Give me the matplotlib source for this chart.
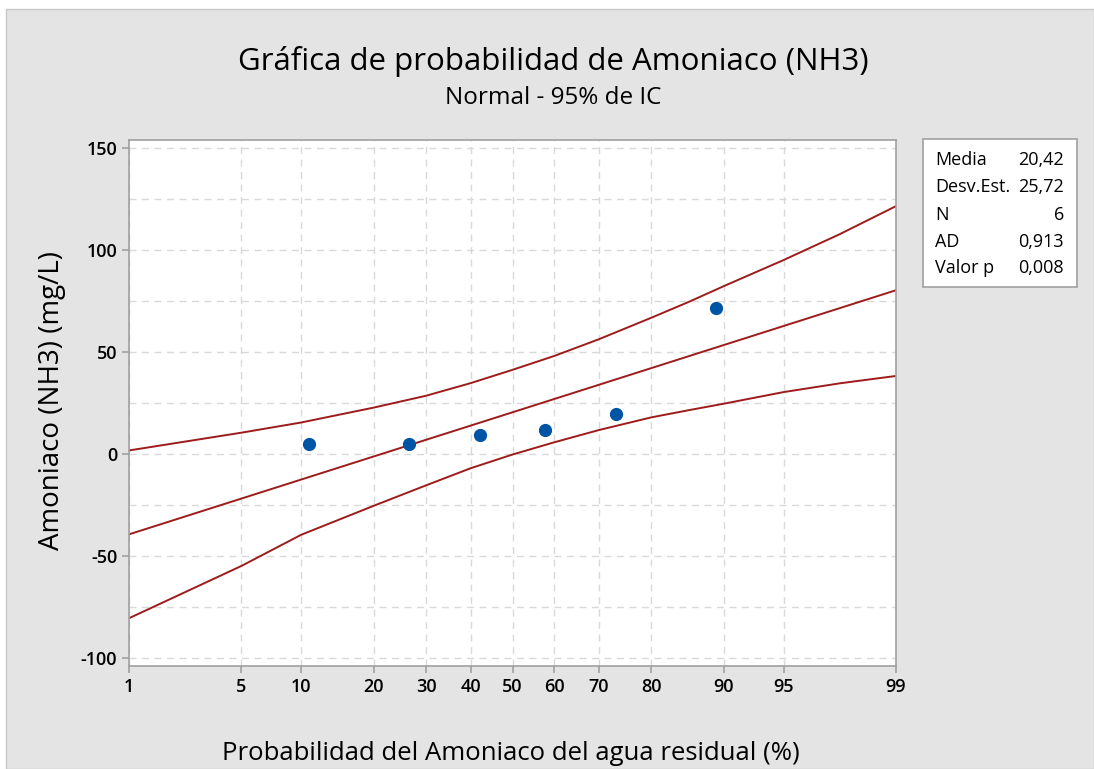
import matplotlib.pyplot as plt
import numpy as np
from matplotlib.patches import Rectangle
from statistics import NormalDist

plt.rcParams['font.family'] = ['Open Sans', 'DejaVu Sans']

# puntos de datos (posicion de probabilidad %, valor mg/L)
prob = [10.9, 26.6, 42.2, 57.8, 73.4, 89.1]
amon = [4.8, 4.9, 9.6, 11.7, 19.8, 71.5]

# linea ajustada y bandas de confianza 95%
fit_prob = [1, 99]
fit_val = [-39.3, 80.3]
band_prob = [1, 5, 10, 20, 30, 40, 50, 60, 70, 80, 85.7, 90, 95, 97.65, 99]
upper = [1.8, 10.5, 15.5, 22.8, 28.6, 34.8, 41.3, 48.1, 56.3, 66.8, 74.5, 82.3, 95.1, 107.8, 121.5]
lower = [-80.4, -54.8, -39.5, -25.3, -15.3, -6.9, -0.2, 5.8, 11.8, 18.0, 21.5, 24.7, 30.4, 34.7, 38.3]

xticks = [1, 5, 10, 20, 30, 40, 50, 60, 70, 80, 90, 95, 99]
yticks = [-100, -50, 0, 50, 100, 150]

stat_names = ['Media', 'Desv.Est.', 'N', 'AD', 'Valor p']
stat_vals = ['20,42', '25,72', '6', '0,913', '0,008']

nd = NormalDist()
_ppf = np.vectorize(lambda v: nd.inv_cdf(v / 100.0), otypes=[float])
_cdf = np.vectorize(lambda v: nd.cdf(v) * 100.0, otypes=[float])


def fwd(p):
    p = np.clip(np.asarray(p, dtype=float), 1e-6, 100 - 1e-6)
    return _ppf(p)


def inv(z):
    return _cdf(np.asarray(z, dtype=float))


W, H = 1094, 769
fig = plt.figure(figsize=(W / 100, H / 100), dpi=100, facecolor='white')
fig.patches.append(Rectangle((6 / W, 0), 1 - 6 / W, 1 - 9 / H, transform=fig.transFigure,
                             facecolor='#e4e4e4', edgecolor='#c8c8c8', lw=1, zorder=-10))

ax = fig.add_axes([129 / W, 1 - 666 / H, (896 - 129) / W, (666 - 140) / H])
ax.set_facecolor('white')
ax.set_xscale('function', functions=(fwd, inv))
ax.set_xlim(1, 99)
ax.set_ylim(-103.8, 153.9)

ax.set_xticks(xticks)
ax.set_xticklabels([str(t) for t in xticks])
ax.xaxis.set_minor_locator(plt.NullLocator())
ax.set_yticks(yticks)
ax.set_yticklabels([str(t) for t in yticks])
ax.set_yticks(np.arange(-100, 151, 25), minor=True)
ax.tick_params(axis='both', which='major', labelsize=13, color='#a0a0a0', length=5, width=1.2)
ax.tick_params(axis='y', which='minor', length=0)
for lab in ax.get_xticklabels() + ax.get_yticklabels():
    lab.set_fontweight('semibold')
ax.grid(True, which='both', axis='y', color='#d9d9d9', ls=(0, (5, 4)), lw=1)
ax.grid(True, which='major', axis='x', color='#d9d9d9', ls=(0, (5, 4)), lw=1)
for s in ax.spines.values():
    s.set_color('#a0a0a0')
    s.set_linewidth(1.2)

red = '#9e1b1b'
ax.plot(fit_prob, fit_val, color=red, lw=1.4)
ax.plot(band_prob, upper, color=red, lw=1.4)
ax.plot(band_prob, lower, color=red, lw=1.4)
ax.plot(prob, amon, 'o', color='#0054a6', ms=8.5, zorder=5)

fig.text(511 / W, 1 - 760 / H, 'Probabilidad del Amoniaco del agua residual (%)', fontsize=18.5,
         ha='center', va='baseline')
fig.text(52 / W, 1 - 401 / H, 'Amoniaco (NH3) (mg/L)', fontsize=20, rotation=90,
         ha='center', va='center')

fig.text(553 / W, 1 - 70 / H, 'Gráfica de probabilidad de Amoniaco (NH3)', fontsize=22.5,
         ha='center', va='baseline')
fig.text(553 / W, 1 - 104 / H, 'Normal - 95% de IC', fontsize=17.5, ha='center', va='baseline')

# cuadro de estadisticos
fig.patches.append(Rectangle((923 / W, 1 - 287 / H), (1077 - 923) / W, (287 - 139) / H,
                             transform=fig.transFigure, facecolor='white',
                             edgecolor='#a0a0a0', lw=1.2))
row_y = [160, 187, 215, 242, 268]
for name, val, yy in zip(stat_names, stat_vals, row_y):
    fig.text(935 / W, 1 - yy / H, name, fontsize=13, ha='left', va='center')
    fig.text(1064 / W, 1 - yy / H, val, fontsize=13, ha='right', va='center')

fig.savefig('out.png', dpi=100, facecolor=fig.get_facecolor())
